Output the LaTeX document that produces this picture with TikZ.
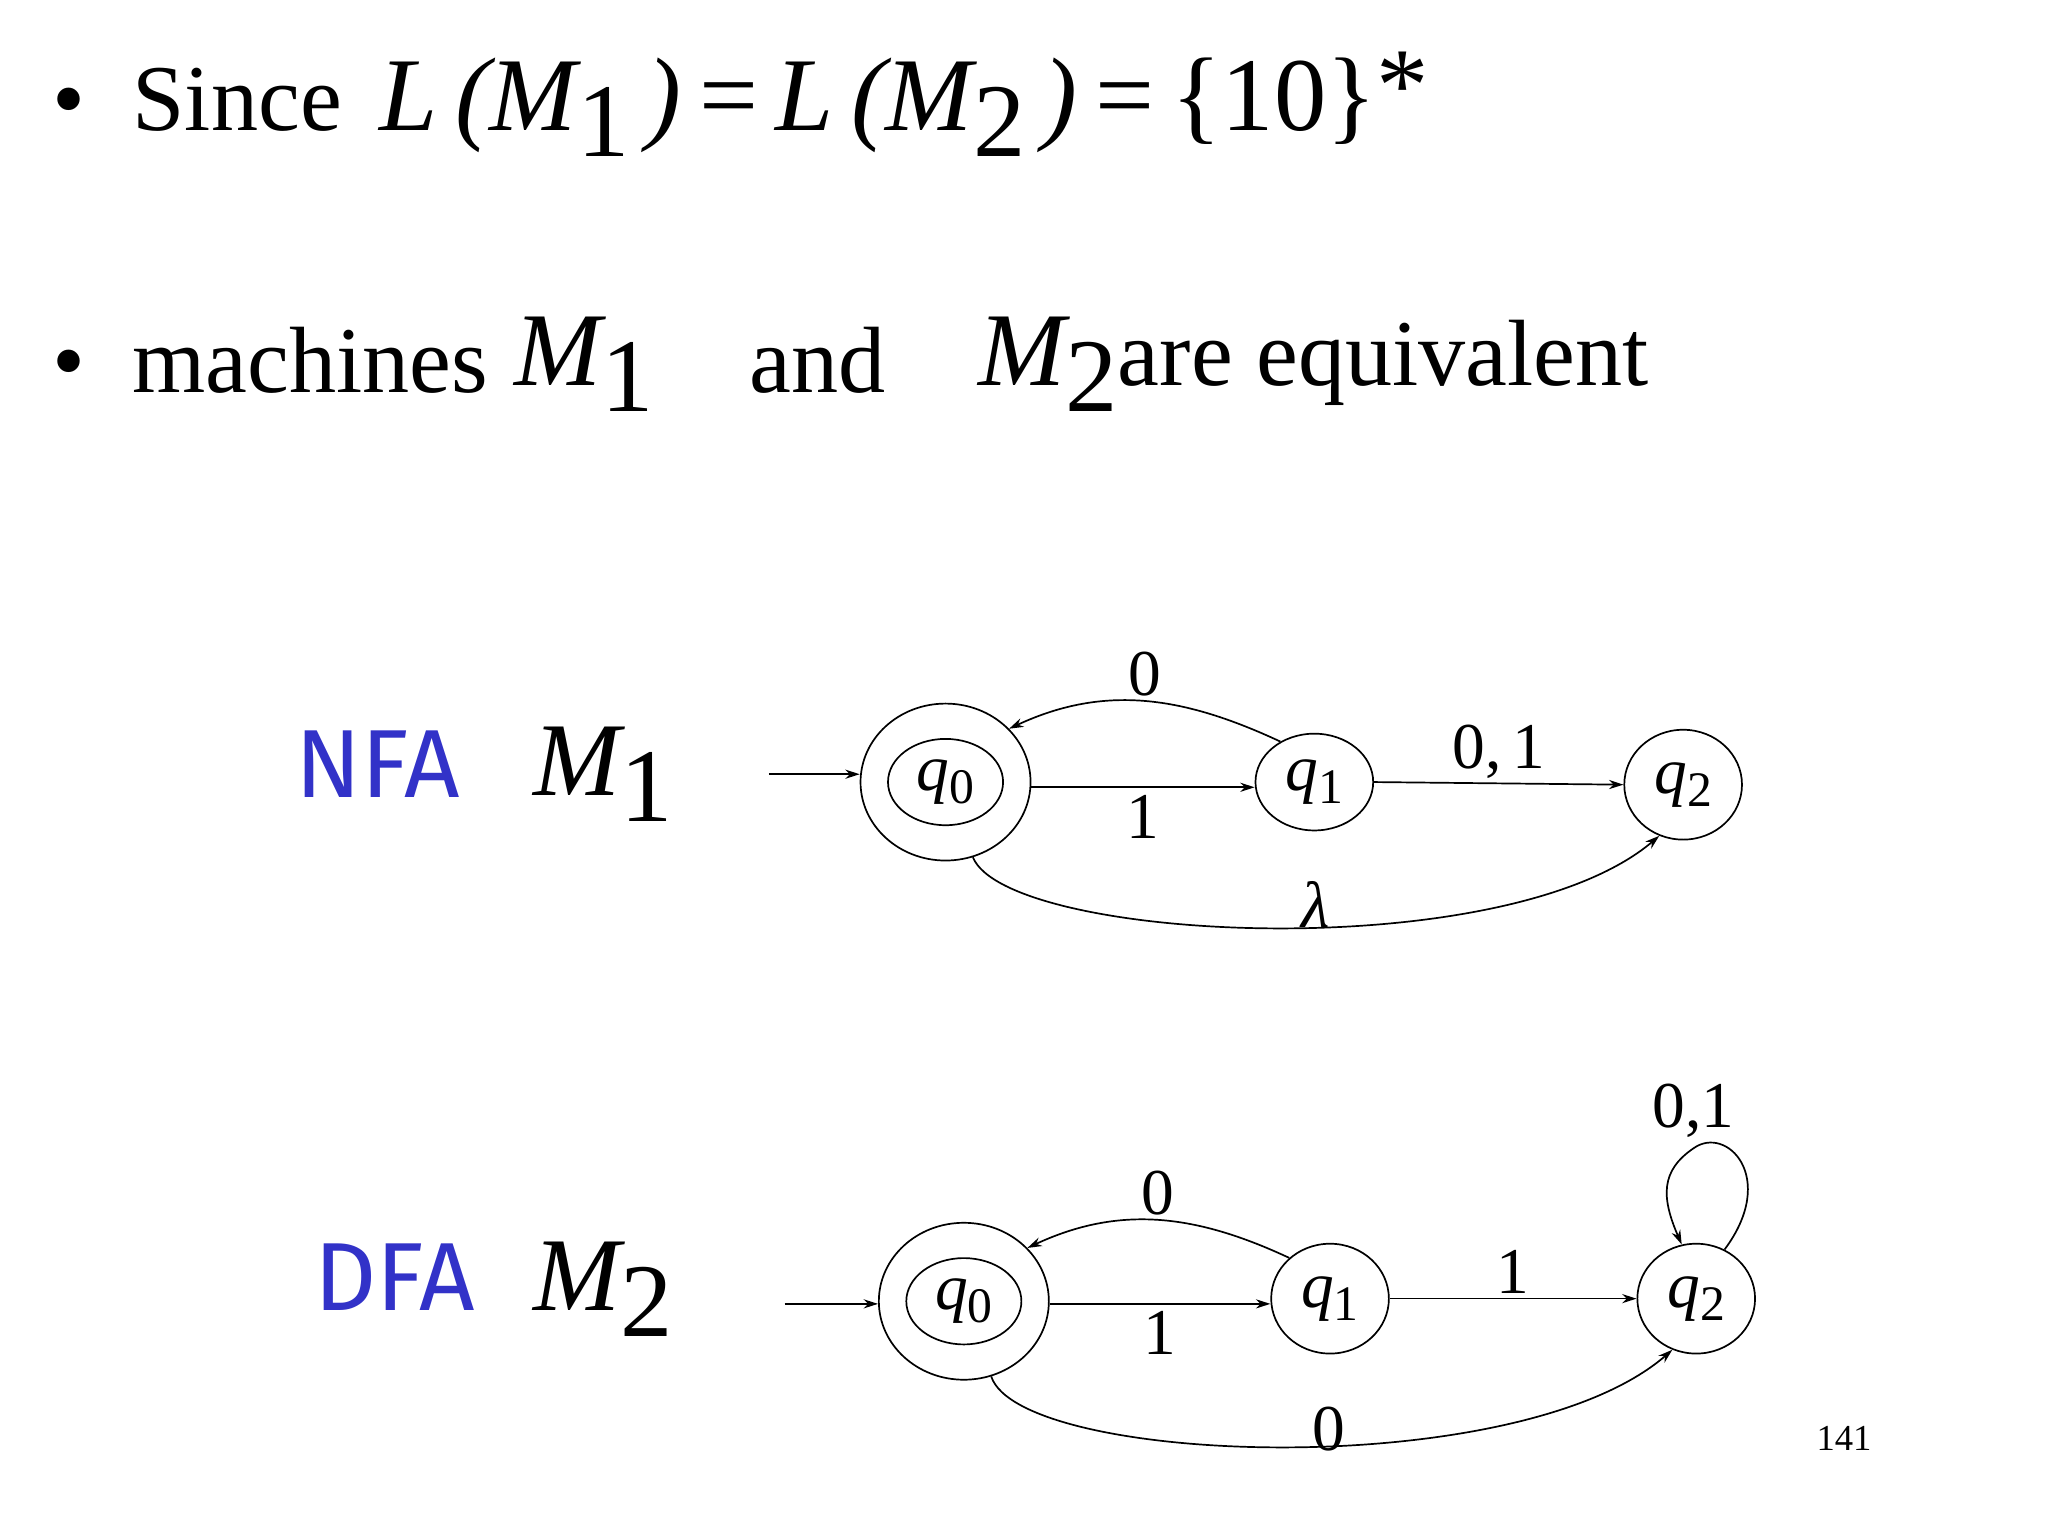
\documentclass[tikz,border=0pt]{standalone}
\usepackage{fontspec}
\setmainfont{Liberation Serif}
\newfontfamily\blfont{Fira Sans}
\usetikzlibrary{shapes.geometric,arrows.meta}
\begin{document}
\begin{tikzpicture}[x=1pt,y=-1pt,
  st/.style={draw,ellipse,line width=1.3pt,inner sep=0pt},
  lab/.style={font=\fontsize{50}{54}\selectfont},
  ed/.style={line width=1.3pt,-{Stealth[length=11pt,width=7pt]}},
  big/.style={font=\fontsize{72}{80}\selectfont,anchor=base west,inner sep=0pt}]
\useasboundingbox (0,0) rectangle (1566,1174);
% line 1
\node[big] (b1) at (40,100) {\textbullet\ \ Since};
\node[big] (f1) at (290,100) {\fontsize{80}{80}\selectfont\itshape L\,(M\raisebox{-0.25em}{\upshape 1}\,)\upshape\,=\,\itshape L\,(M\raisebox{-0.25em}{\upshape 2}\,)\upshape\,=\,\{10\}\raisebox{0.1em}{*}};
% line 2
\node[big] (b2) at (40,300) {\textbullet\ \ machines};
\node[big] (m1) at (393,295) {\fontsize{80}{80}\selectfont\itshape M\raisebox{-0.25em}{\upshape 1}};
\node[big] (and) at (573,300) {and};
\node[big] (m2) at (748,295) {\fontsize{80}{80}\selectfont\itshape M\raisebox{-0.25em}{\upshape 2}\upshape\fontsize{72}{80}\selectfont are equivalent};
% NFA
\node[anchor=base west,inner sep=0pt,text={rgb,255:red,50;green,50;blue,200},font=\blfont\fontsize{74}{78}\selectfont] (nfa) at (226,610) {NFA};
\node[big] (nm) at (408,608) {\fontsize{80}{80}\selectfont\itshape M\raisebox{-0.25em}{\upshape 1}};
\node[st,minimum width=130pt,minimum height=120pt] (a0) at (723,598) {};
\node[st,minimum width=88pt,minimum height=66pt,lab] (a0i) at (723,598) {\itshape q\raisebox{-0.2em}{\upshape\fontsize{38}{38}\selectfont 0}};
\node[st,minimum width=90pt,minimum height=74pt,lab] (a1) at (1005,598) {\itshape q\raisebox{-0.2em}{\upshape\fontsize{38}{38}\selectfont 1}};
\node[st,minimum width=90pt,minimum height=84pt,lab] (a2) at (1287,600) {\itshape q\raisebox{-0.2em}{\upshape\fontsize{38}{38}\selectfont 2}};
\coordinate (as) at (588,592);
\draw[ed] (as) -- (a0.west |- as);
\draw[ed] (a0.east |- 0,602) -- (a1.west |- 0,602) node[midway,below,lab,yshift=-2pt] (l1) {1};
\draw[ed] (a1.130) to[out=155,in=25,looseness=1] node[midway,above,lab] (l2) {0} (a0.40);
\draw[ed] (a1.east) -- (a2.west) node[midway,above,lab] (l3) {0,\,1};
\draw[ed] (a0.290) .. controls (770,720) and (1150,740) .. (a2.-115) node[pos=0.55,above,lab,yshift=-4pt] (l4) {\itshape λ};
% DFA
\node[anchor=base west,inner sep=0pt,text={rgb,255:red,50;green,50;blue,200},font=\blfont\fontsize{74}{78}\selectfont] (dfa) at (240,1002) {DFA};
\node[big] (dm) at (408,1002) {\fontsize{80}{80}\selectfont\itshape M\raisebox{-0.25em}{\upshape 2}};
\node[st,minimum width=130pt,minimum height=120pt] (d0) at (737,995) {};
\node[st,minimum width=88pt,minimum height=66pt,lab] (d0i) at (737,995) {\itshape q\raisebox{-0.2em}{\upshape\fontsize{38}{38}\selectfont 0}};
\node[st,minimum width=90pt,minimum height=84pt,lab] (d1) at (1017,993) {\itshape q\raisebox{-0.2em}{\upshape\fontsize{38}{38}\selectfont 1}};
\node[st,minimum width=90pt,minimum height=84pt,lab] (d2) at (1297,993) {\itshape q\raisebox{-0.2em}{\upshape\fontsize{38}{38}\selectfont 2}};
\coordinate (ds) at (600,997);
\draw[ed] (ds) -- (d0.west |- ds);
\draw[ed] (d0.east |- 0,997) -- (d1.west |- 0,997) node[midway,below,lab,yshift=-2pt] (m1l) {1};
\draw[ed] (d1.135) to[out=155,in=25] node[midway,above,lab] (m2l) {0} (d0.40);
\draw[ed] (d1.east) -- (d2.west) node[midway,above,lab] (m3l) {1};
\draw[ed] (d0.290) .. controls (780,1120) and (1160,1135) .. (d2.-115) node[pos=0.55,above,lab,yshift=-8pt] (m4l) {0};
\draw[ed] (d2.60) .. controls (1360,900) and (1320,860) .. (1295,878) .. controls (1270,895) and (1270,915) .. (d2.105) node[pos=0,above,lab,yshift=4pt] (m5l) {0,1};
\node[font=\fontsize{28}{30}\selectfont] (pg) at (1410,1100) {141};
\end{tikzpicture}
\end{document}
